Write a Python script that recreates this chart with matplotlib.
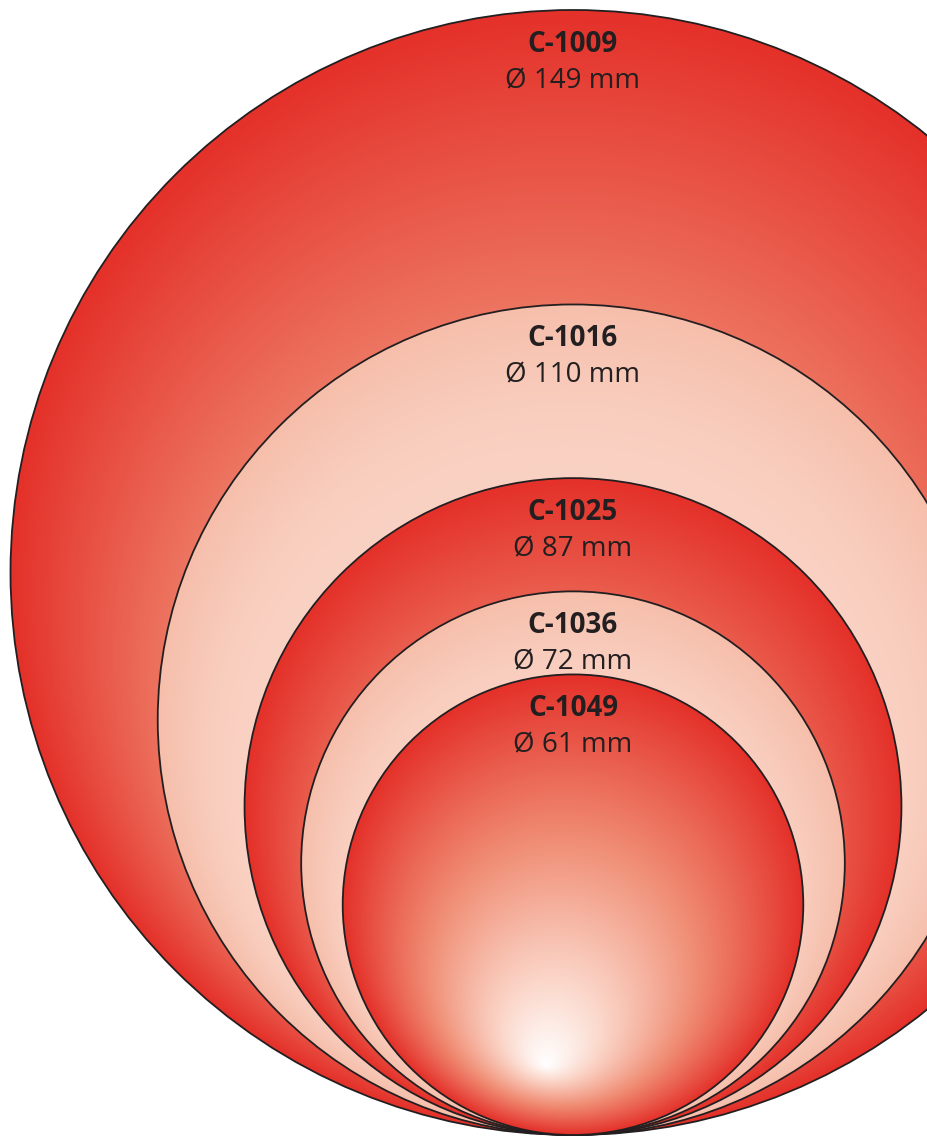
import numpy as np
import matplotlib
matplotlib.use("Agg")
import matplotlib.pyplot as plt
from matplotlib.patches import Circle
from matplotlib.colors import LinearSegmentedColormap

# data
codes = ["C-1009", "C-1016", "C-1025", "C-1036", "C-1049"]
diameters_mm = [149, 110, 87, 72, 61]
styles = ["red", "light", "red", "light", "red"]

W, H = 927, 1137
px_per_mm = 1125 / 149.0
cx = 573.0
base_y = 1135.0   # every circle touches this line

red_cmap = LinearSegmentedColormap.from_list(
    "redg", [(0, "#ffffff"), (0.22, "#fbd6c9"), (0.58, "#f08d74"), (1.0, "#e4312a")])
light_cmap = LinearSegmentedColormap.from_list(
    "lightg", [(0, "#fef3ee"), (0.5, "#fbdcd1"), (0.85, "#f9cebf"), (1.0, "#f6bfac")])

plt.rcParams['font.family'] = ['Open Sans', 'DejaVu Sans']

fig = plt.figure(figsize=(W / 100, H / 100), dpi=100)
ax = fig.add_axes([0, 0, 1, 1])
ax.axis("off")


def radial_t(xx, yy, c, r, f):
    # svg style focal radial gradient, t=0 at focal point, t=1 on circle
    dx, dy = xx - f[0], yy - f[1]
    Dx, Dy = c[0] - f[0], c[1] - f[1]
    a = Dx * Dx + Dy * Dy - r * r
    b = dx * Dx + dy * Dy
    dd = dx * dx + dy * dy
    t = (b - np.sqrt(b * b - a * dd)) / a
    return np.clip(t, 0, 1)


for k, (code, dia, st) in enumerate(zip(codes, diameters_mm, styles)):
    r = dia * px_per_mm / 2
    cy = base_y - r
    f = (cx - 0.12 * r, cy + 0.70 * r)
    x0, x1 = cx - r, cx + r
    y0, y1 = cy - r, cy + r
    xs = np.linspace(x0, x1, 700)
    ys = np.linspace(y0, y1, 700)
    xx, yy = np.meshgrid(xs, ys)
    t = radial_t(xx, yy, (cx, cy), r, f)
    cmap = red_cmap if st == "red" else light_cmap
    circ = Circle((cx, cy), r, facecolor="none", edgecolor="#231f20",
                  linewidth=1.3, zorder=2 * k + 2)
    ax.add_patch(circ)
    im = ax.imshow(cmap(t), extent=(x0, x1, y1, y0), origin="upper",
                   interpolation="bilinear", zorder=2 * k + 1)
    im.set_clip_path(circ)
    top = cy - r
    ax.text(cx, top + 42, code, ha="center", va="baseline", fontsize=20,
            fontweight="bold", color="#231f20", zorder=20)
    ax.text(cx, top + 78, "Ø %d mm" % dia, ha="center", va="baseline",
            fontsize=20, color="#231f20", zorder=20)

ax.set_xlim(0, W)
ax.set_ylim(H, 0)
fig.savefig("out.png", dpi=100)
